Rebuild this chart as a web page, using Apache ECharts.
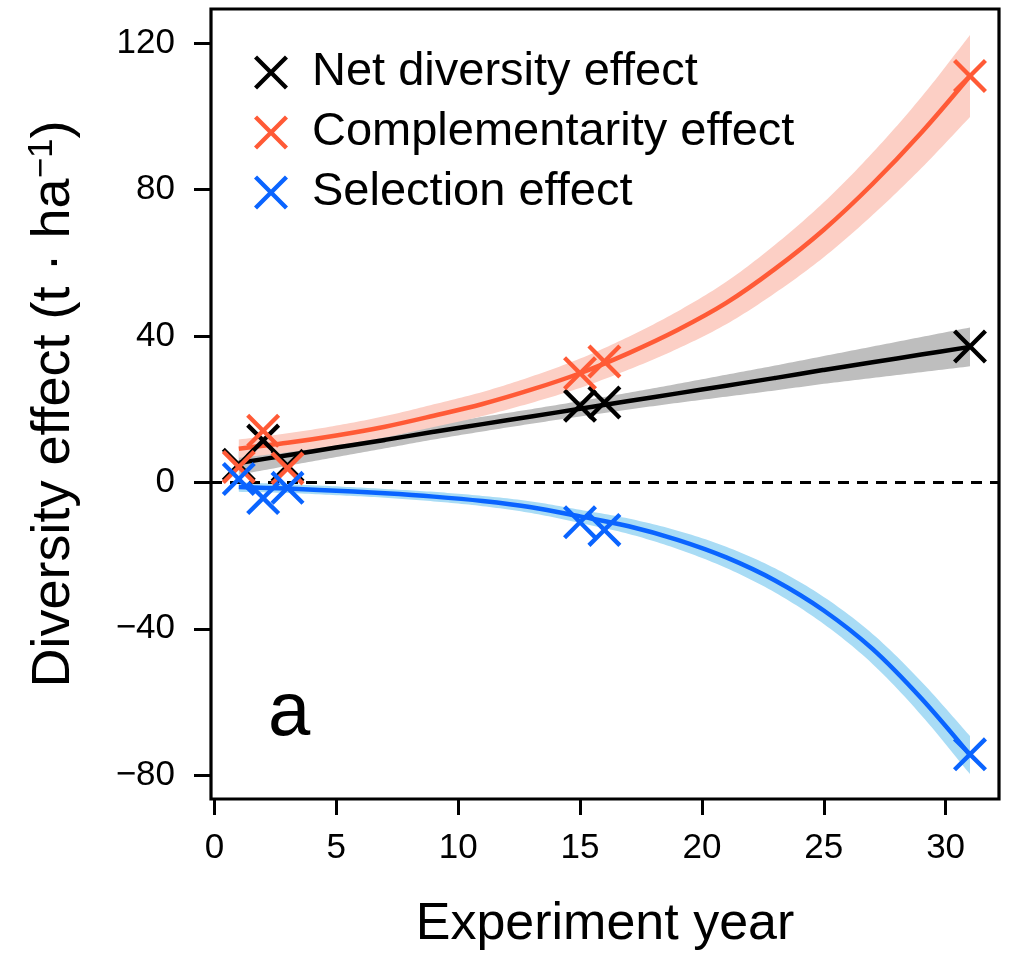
<!DOCTYPE html>
<html>
<head>
<meta charset="utf-8">
<script src="https://cdn.jsdelivr.net/npm/echarts@6/dist/echarts.min.js"></script>
<style>
  html, body { margin: 0; padding: 0; background: #fff; }
  #chart { width: 1013px; height: 956px; }
</style>
</head>
<body>
<div id="chart"></div>
<script>
// Fitted curves, sampled every two years
const fitYears = [1, 3, 5, 7, 9, 11, 13, 15, 17, 19, 21, 23, 25, 27, 29, 31];

const netFit = [5.3, 7.4, 9.5, 11.6, 13.8, 15.9, 18.0, 20.1, 22.2, 24.3, 26.4, 28.5, 30.7, 32.8, 34.9, 37.0];
const netLo  = [2.1, 4.5, 6.9, 9.3, 11.7, 13.9, 16.0, 18.0, 19.9, 21.7, 23.4, 25.1, 26.9, 28.5, 30.1, 31.7];
const netHi  = [8.5, 10.3, 12.1, 13.9, 15.9, 17.9, 20.0, 22.2, 24.5, 26.9, 29.4, 31.9, 34.5, 37.1, 39.7, 42.3];

const compFit = [9.2, 10.8, 12.8, 15.2, 18.2, 21.4, 25.3, 29.8, 35.3, 41.6, 49.0, 58.3, 69.0, 81.5, 95.5, 111.0];
const compLo  = [6.7, 8.2, 10.1, 12.3, 15.1, 18.1, 21.7, 25.8, 30.8, 36.5, 43.2, 51.7, 61.5, 73.0, 85.8, 99.8];
const compHi  = [11.7, 13.4, 15.5, 18.1, 21.3, 24.7, 28.9, 33.8, 39.8, 46.7, 54.8, 64.9, 76.5, 90.0, 105.2, 122.2];

const selFit = [-1.3, -1.7, -2.3, -3.0, -3.9, -5.1, -6.8, -9.3, -12.0, -15.7, -20.5, -26.8, -35.0, -45.5, -59.0, -74.5];
const selLo  = [-2.6, -2.9, -3.5, -4.2, -5.2, -6.5, -8.4, -11.1, -14.1, -18.2, -23.4, -30.1, -38.7, -49.6, -63.6, -79.7];
const selHi  = [0.0, -0.5, -1.1, -1.8, -2.6, -3.7, -5.2, -7.5, -9.9, -13.2, -17.6, -23.5, -31.3, -41.4, -54.4, -69.3];

// Observed plot-level effects
const obsYears = [1, 2, 3, 15, 16, 31];
const netObs  = [4.8, 11.4, 4.5, 20.9, 21.8, 37.1];
const compObs = [4.2, 14.1, 3.8, 29.8, 33.0, 111.0];
const selObs  = [0.9, -4.3, -1.5, -10.9, -13.0, -74.3];

const xTicks = [0, 5, 10, 15, 20, 25, 30];
const yTicks = [-80, -40, 0, 40, 80, 120];

const seriesNames = ['Net diversity effect', 'Complementarity effect', 'Selection effect'];

const FONT = '"Liberation Sans", Arial, Helvetica, sans-serif';
const RED = '#ff5a36';
const BLUE = '#0a64ff';
const CROSS = 'path://M9,0 L50,41 L91,0 L100,9 L59,50 L100,91 L91,100 L50,59 L9,100 L0,91 L41,50 L0,9 Z';
const SMOOTH = 1 / 3;

// Smooth pixel outline through projected points (same bezier rule as line series smoothing)
function smoothOutline(pts, s) {
  const n = pts.length;
  const dist = (a, b) => Math.hypot(a[0] - b[0], a[1] - b[1]);
  const ctrl = pts.map((p, i) => {
    const prev = pts[Math.max(i - 1, 0)];
    const next = pts[Math.min(i + 1, n - 1)];
    const vx = (next[0] - prev[0]) * s, vy = (next[1] - prev[1]) * s;
    const l0 = dist(p, prev), l1 = dist(p, next);
    const t = (l0 + l1) > 0 ? l0 / (l0 + l1) : 0.5;
    return { inP: [p[0] - vx * t, p[1] - vy * t], outP: [p[0] + vx * (1 - t), p[1] + vy * (1 - t)] };
  });
  const out = [pts[0]];
  const steps = 14;
  for (let i = 0; i < n - 1; i++) {
    const p0 = pts[i], c1 = ctrl[i].outP, c2 = ctrl[i + 1].inP, p3 = pts[i + 1];
    for (let k = 1; k <= steps; k++) {
      const t = k / steps, u = 1 - t;
      out.push([
        u * u * u * p0[0] + 3 * u * u * t * c1[0] + 3 * u * t * t * c2[0] + t * t * t * p3[0],
        u * u * u * p0[1] + 3 * u * u * t * c1[1] + 3 * u * t * t * c2[1] + t * t * t * p3[1]
      ]);
    }
  }
  return out;
}

function band(name, lo, hi, fill) {
  return {
    type: 'custom',
    name: name,
    silent: true,
    clip: true,
    z: 1,
    data: fitYears.map((x, i) => [x, lo[i], hi[i]]),
    encode: { x: 0, y: [1, 2] },
    renderItem: function (params, api) {
      if (params.dataIndex !== 0) return null;
      const upper = fitYears.map((x, i) => api.coord([x, hi[i]]));
      const lower = fitYears.map((x, i) => api.coord([x, lo[i]]));
      const top = smoothOutline(upper, SMOOTH);
      const bottom = smoothOutline(lower, SMOOTH).reverse();
      return {
        type: 'polygon',
        shape: { points: top.concat(bottom) },
        style: { fill: fill }
      };
    }
  };
}

function fitLine(name, values, color, extra) {
  return Object.assign({
    type: 'line',
    name: name,
    silent: true,
    z: 3,
    smooth: SMOOTH,
    showSymbol: false,
    data: fitYears.map((x, i) => [x, values[i]]),
    lineStyle: { color: color, width: 4.5 },
    itemStyle: { color: color }
  }, extra || {});
}

function points(name, values, color) {
  return {
    type: 'scatter',
    name: name,
    z: 5,
    symbol: CROSS,
    symbolSize: 34,
    data: obsYears.map((x, i) => [x, values[i]]),
    itemStyle: { color: color, opacity: 1 }
  };
}

const chart = echarts.init(document.getElementById('chart'), null, { renderer: 'canvas' });

chart.setOption({
  backgroundColor: '#fff',
  animation: false,
  textStyle: { fontFamily: FONT },
  grid: {
    left: 211, right: 14, top: 9, bottom: 155,
    show: true, borderColor: '#000', borderWidth: 3.2, backgroundColor: 'transparent'
  },
  legend: {
    orient: 'vertical',
    left: 249,
    top: 44,
    itemWidth: 34,
    itemHeight: 34,
    itemGap: 13,
    selectedMode: false,
    data: seriesNames.map(n => ({ name: n, icon: CROSS, itemStyle: { opacity: 1 } })),
    textStyle: { fontSize: 47, color: '#000', fontFamily: FONT, padding: [0, 0, 0, 19] }
  },
  xAxis: {
    type: 'value',
    min: -0.14,
    max: 32.19,
    axisLine: { show: false, onZero: false },
    splitLine: { show: false },
    axisTick: { show: true, customValues: xTicks, length: 16, lineStyle: { color: '#000', width: 3 } },
    axisLabel: { customValues: xTicks, fontSize: 35, color: '#000', margin: 32, fontFamily: FONT },
    name: 'Experiment year',
    nameLocation: 'middle',
    nameGap: 100,
    nameTextStyle: { fontSize: 52, color: '#000', fontFamily: FONT }
  },
  yAxis: {
    type: 'value',
    min: -86.5,
    max: 129.3,
    axisLine: { show: false, onZero: false },
    splitLine: { show: false },
    axisTick: { show: true, customValues: yTicks, length: 17, lineStyle: { color: '#000', width: 3 } },
    axisLabel: {
      customValues: yTicks, fontSize: 35, color: '#000', margin: 36, fontFamily: FONT,
      formatter: v => (v < 0 ? '\u2212' + Math.abs(v) : String(v))
    },
    name: '{m|Diversity effect (t \u00b7 ha}{s|\u22121}{m|)}',
    nameLocation: 'middle',
    nameRotate: 90,
    nameGap: 128,
    nameTextStyle: {
      color: '#000',
      fontFamily: FONT,
      rich: {
        m: { fontSize: 54, color: '#000', fontFamily: FONT, lineHeight: 58 },
        s: { fontSize: 35, color: '#000', fontFamily: FONT, verticalAlign: 'top', lineHeight: 58 }
      }
    }
  },
  graphic: [{
    type: 'text',
    left: 268,
    top: 676,
    z: 10,
    style: { text: 'a', fontSize: 76, fill: '#000', fontFamily: FONT }
  }],
  series: [
    band('Net band', netLo, netHi, '#bebebe'),
    band('Complementarity band', compLo, compHi, '#fccfc5'),
    band('Selection band', selLo, selHi, '#a9dcf5'),
    fitLine('Net fit', netFit, '#000'),
    fitLine('Complementarity fit', compFit, RED),
    fitLine('Selection fit', selFit, BLUE, {
      markLine: {
        silent: true,
        symbol: 'none',
        label: { show: false },
        lineStyle: { type: [11, 8], color: '#000', width: 2.8 },
        data: [{ yAxis: 0 }]
      }
    }),
    points(seriesNames[0], netObs, '#000'),
    points(seriesNames[1], compObs, RED),
    points(seriesNames[2], selObs, BLUE)
  ]
});
</script>
</body>
</html>
